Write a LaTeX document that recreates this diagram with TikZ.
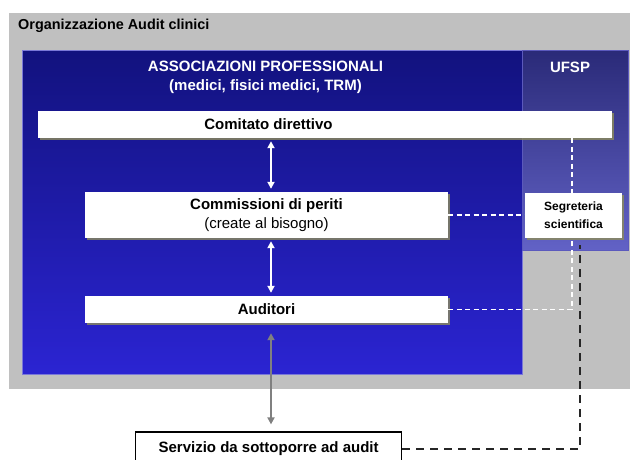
\documentclass[tikz,border=0pt]{standalone}
\usepackage{fontspec}
\setmainfont{Liberation Sans}
\usetikzlibrary{arrows.meta,calc,shadows}
\definecolor{bgGray}{HTML}{C0C0C0}
\definecolor{navyTop}{HTML}{12127E}
\definecolor{blueBot}{HTML}{2B24D2}
\definecolor{ufspTop}{HTML}{2A2A78}
\definecolor{ufspBot}{HTML}{6262C6}
\definecolor{shadowC}{HTML}{8C8C5A}
\definecolor{edgeC}{HTML}{7A78D8}
\definecolor{arrowGray}{HTML}{808080}
\begin{document}
\begin{tikzpicture}[x=1pt,y=-1pt,
  wbox/.style={fill=white, inner sep=0pt, align=center,
    font=\fontsize{15}{19}\selectfont\bfseries,
    drop shadow={shadow xshift=2pt, shadow yshift=-2pt, fill=shadowC, opacity=0.8}},
  hdr/.style={text=white, align=center, font=\fontsize{15}{19}\selectfont\bfseries, inner sep=0pt},
  warrow/.style={draw=white, line width=2pt, {Triangle[width=7pt,length=7pt]}-{Triangle[width=7pt,length=7pt]}, shorten <=3pt, shorten >=3pt},
  garrow/.style={draw=arrowGray, line width=2pt, {Triangle[width=7pt,length=7pt]}-{Triangle[width=7pt,length=7pt]}},
  wdash/.style={draw=white, line width=1.8pt, dash pattern=on 5pt off 3.5pt},
  bdash/.style={draw=black!85, line width=1.9pt, dash pattern=on 8pt off 6pt}]
\useasboundingbox (0,0) rectangle (630,459);
% background panels
\fill[bgGray] (8.5,12.5) rectangle (630,389);
\shade[top color=navyTop, bottom color=blueBot, draw=edgeC, line width=0.6pt] (22.5,50) rectangle (522,374);
\shade[top color=ufspTop, bottom color=ufspBot, draw=edgeC!70!navyTop, line width=0.6pt] (522,50) rectangle (628,250);
% titles
\node[anchor=west, inner sep=0pt, font=\fontsize{14.4}{17}\selectfont\bfseries] (title) at (18,26) {Organizzazione Audit clinici};
\node[hdr] (assoc) at (265.5,77.5) {ASSOCIAZIONI PROFESSIONALI\\(medici, fisici medici, TRM)};
\node[hdr] (ufsp) at (570,67.5) {UFSP};
% boxes
\node[wbox, minimum width=574pt, minimum height=27pt,
  label={[xshift=-56.5pt, font=\fontsize{15}{19}\selectfont\bfseries]center:Comitato direttivo}] (com) at (325,124.5) {};
\node[wbox, minimum width=363pt, minimum height=46pt] (comm) at (266.5,215) {Commissioni di periti\\{\mdseries (create al bisogno)}};
\node[wbox, minimum width=363pt, minimum height=27pt] (aud) at (266.5,309.5) {Auditori};
\node[wbox, minimum width=97pt, minimum height=45pt, font=\fontsize{12}{18}\selectfont\bfseries] (seg) at (573.5,215.5) {Segreteria\\scientifica};
\node[fill=white, draw=black, line width=1.2pt, minimum width=266pt, minimum height=34pt, inner sep=0pt,
  font=\fontsize{15}{19}\selectfont\bfseries] (serv) at (268.6,449) {Servizio da sottoporre ad audit};
% helper coordinates
\coordinate (ax) at (271,0);
\coordinate (sx) at (572,0);
\coordinate (bx) at (580,0);
% arrows
\draw[warrow] (com.south -| ax) -- (comm.north -| ax);
\draw[warrow] (comm.south -| ax) -- (aud.north -| ax);
\draw[garrow, shorten <=10pt, shorten >=7pt] (aud.south -| ax) -- (serv.north -| ax);
% dashed links
\draw[wdash] (com.south -| sx) -- (seg.north -| sx);
\draw[wdash] (comm.east) -- (comm.east -| seg.west);
\draw[wdash] (aud.east) -| (seg.south -| sx);
\draw[bdash] (serv.east) -| ($(seg.south -| bx)+(0,7)$);
\end{tikzpicture}
\end{document}
